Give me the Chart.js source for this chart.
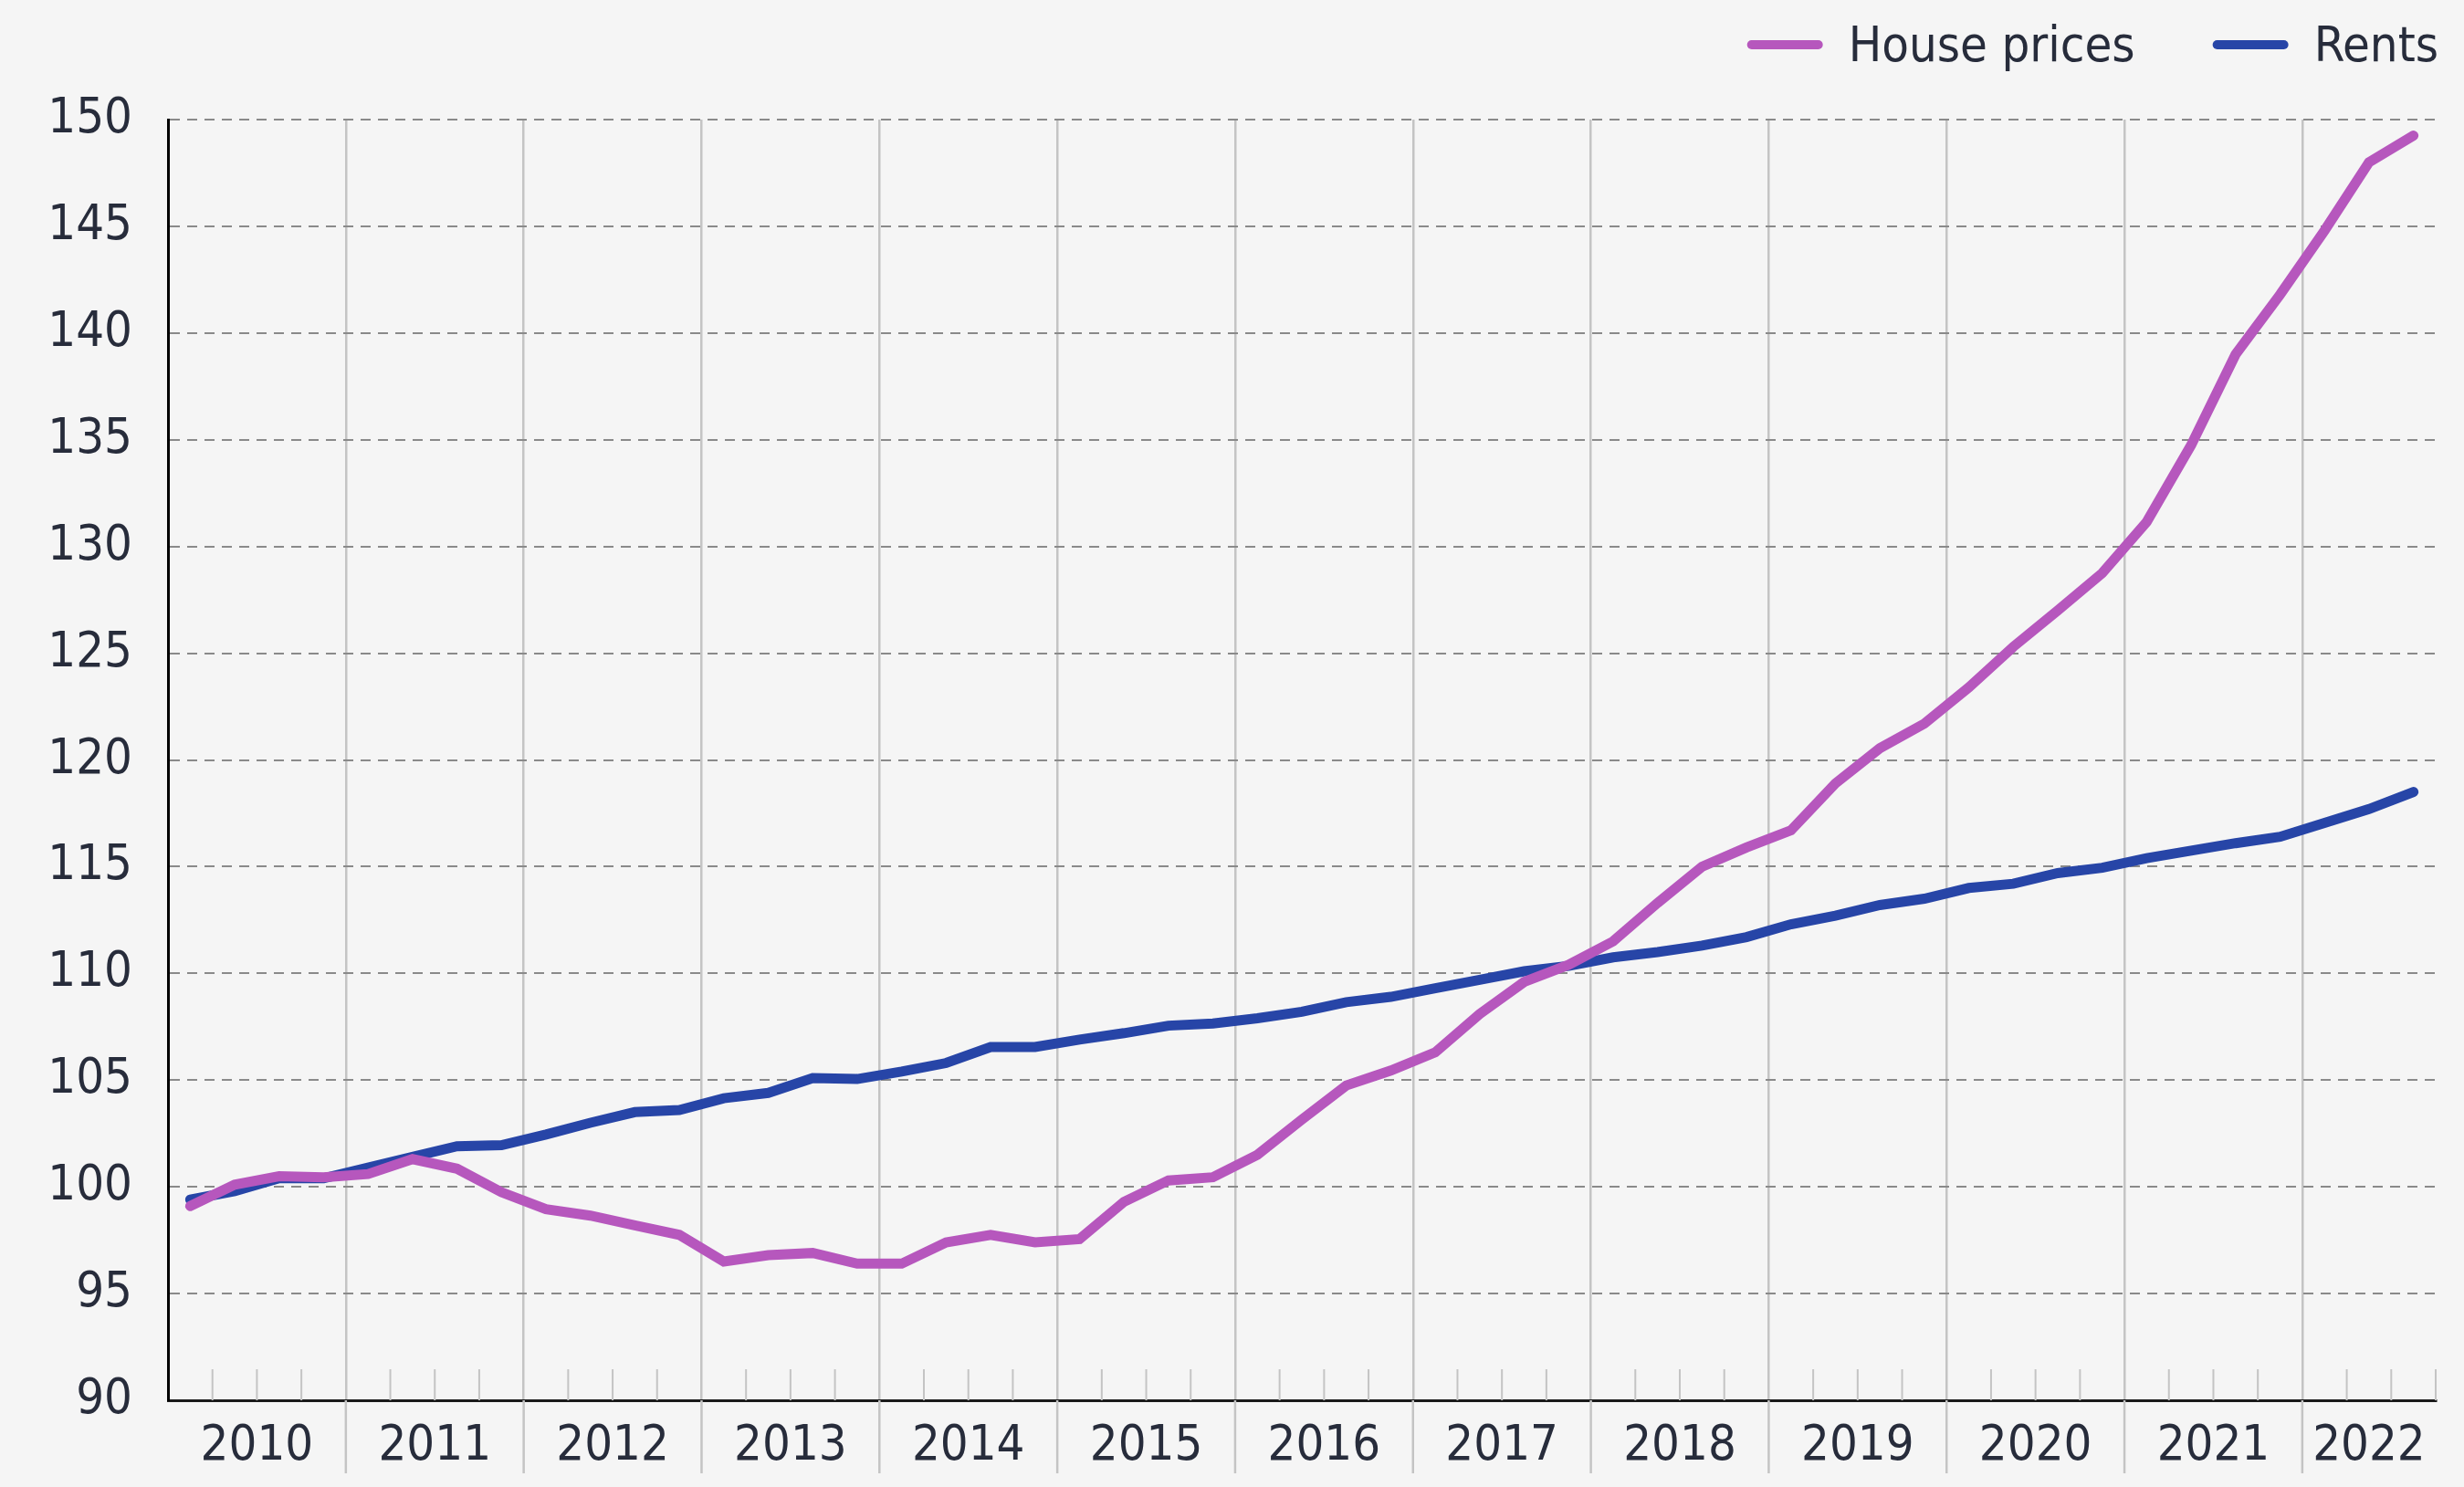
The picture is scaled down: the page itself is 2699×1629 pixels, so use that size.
<!DOCTYPE html>
<html>
<head>
<meta charset="utf-8">
<title>House prices and rents</title>
<script src="https://cdn.jsdelivr.net/npm/chart.js@4.4.1/dist/chart.umd.min.js"></script>
<style>
  html, body { margin: 0; padding: 0; background: #f5f5f5; overflow: hidden; }
  canvas { display: block; }
</style>
</head>
<body>
<canvas id="chart" width="2699" height="1629"></canvas>
<script>
// years shown on the axis (2022 only has three quarters)
const years = ['2010', '2011', '2012', '2013', '2014', '2015', '2016',
  '2017', '2018', '2019', '2020', '2021', '2022'];
const quarterLabels = years
  .flatMap(y => ['Q1', 'Q2', 'Q3', 'Q4'].map(q => y + ' ' + q))
  .slice(0, 51);

const housePrices = [
  99.1, 100.1, 100.5, 100.45,
  100.6, 101.3, 100.85, 99.75,
  98.95, 98.65, 98.2, 97.75,
  96.5, 96.8, 96.9, 96.4,
  96.4, 97.4, 97.75, 97.4,
  97.55, 99.3, 100.3, 100.45,
  101.5, 103.15, 104.75, 105.45,
  106.3, 108.1, 109.6, 110.4,
  111.5, 113.3, 115.0, 115.9,
  116.7, 118.9, 120.55, 121.7,
  123.4, 125.3, 127.0, 128.75,
  131.15, 134.75, 139.0, 141.8,
  144.8, 148.0, 149.25
];

const rents = [
  99.4, 99.8, 100.4, 100.4,
  100.9, 101.4, 101.9, 101.95,
  102.45, 103.0, 103.5, 103.6,
  104.15, 104.4, 105.1, 105.05,
  105.4, 105.8, 106.55, 106.55,
  106.9, 107.2, 107.55, 107.65,
  107.9, 108.2, 108.65, 108.9,
  109.3, 109.7, 110.1, 110.35,
  110.75, 111.0, 111.3, 111.7,
  112.3, 112.7, 113.2, 113.5,
  114.0, 114.2, 114.7, 114.95,
  115.4, 115.75, 116.1, 116.4,
  117.05, 117.7, 118.5
];

const yTicks = [90, 95, 100, 105, 110, 115, 120, 125, 130, 135, 140, 145, 150];

const FONT = "'Liberation Sans Narrow', 'DejaVu Sans Condensed', sans-serif";
const FONT_SIZE = 54;
const TEXT = '#272c3b';
const YEAR_LINE = '#c4c4c4';
const LINE_WIDTH = 11;

// centre of each year's block of quarters, in category index units
const yearCenters = years.map(y => {
  const idx = quarterLabels.map((l, i) => l.startsWith(y) ? i : -1).filter(i => i >= 0);
  return (idx[0] + idx[idx.length - 1]) / 2;
});

Chart.defaults.font.family = FONT;
Chart.defaults.font.size = FONT_SIZE;
Chart.defaults.color = TEXT;

const background = {
  id: 'background',
  beforeDraw(chart) {
    const ctx = chart.ctx;
    ctx.save();
    ctx.fillStyle = '#f5f5f5';
    ctx.fillRect(0, 0, chart.width, chart.height);
    ctx.restore();
  }
};

// short quarter ticks on the axis, and year separators running down past it
const axisMarks = {
  id: 'axisMarks',
  beforeDatasetsDraw(chart) {
    const x = chart.scales.x;
    const ctx = chart.ctx;
    const bottom = chart.chartArea.bottom;
    const n = quarterLabels.length;
    const half = (x.getPixelForValue(1) - x.getPixelForValue(0)) / 2;
    ctx.save();
    ctx.strokeStyle = YEAR_LINE;
    for (let i = 1; i <= n; i++) {
      const px = i < n ? x.getPixelForValue(i) - half : x.getPixelForValue(n - 1) + half;
      ctx.beginPath();
      if (i % 4 === 0) {
        ctx.lineWidth = 2.5;
        ctx.moveTo(px, bottom);
        ctx.lineTo(px, bottom + 80);
      } else {
        ctx.lineWidth = 2;
        ctx.moveTo(px, bottom);
        ctx.lineTo(px, bottom - 34);
      }
      ctx.stroke();
    }
    ctx.restore();
  }
};

// legend top right: line swatch then label
const topLegend = {
  id: 'topLegend',
  afterDraw(chart) {
    const ctx = chart.ctx;
    ctx.save();
    ctx.font = FONT_SIZE + 'px ' + FONT;
    ctx.textBaseline = 'alphabetic';
    ctx.fillStyle = TEXT;
    let right = 2671;
    const sets = chart.data.datasets;
    for (let k = sets.length - 1; k >= 0; k--) {
      const ds = sets[k];
      const w = ctx.measureText(ds.label).width;
      const textX = right - w;
      ctx.fillText(ds.label, textX, 67);
      const end = textX - 28;
      const start = end - 83;
      ctx.strokeStyle = ds.borderColor;
      ctx.lineWidth = 10;
      ctx.lineCap = 'round';
      ctx.beginPath();
      ctx.moveTo(start + 5, 49);
      ctx.lineTo(end - 5, 49);
      ctx.stroke();
      right = start - 85;
    }
    ctx.restore();
  }
};

new Chart(document.getElementById('chart'), {
  type: 'line',
  data: {
    labels: quarterLabels,
    datasets: [
      {
        label: 'House prices',
        data: housePrices,
        borderColor: '#b657bd',
        borderWidth: LINE_WIDTH,
        borderCapStyle: 'round',
        borderJoinStyle: 'miter',
        pointRadius: 0,
        tension: 0
      },
      {
        label: 'Rents',
        data: rents,
        borderColor: '#2745a7',
        borderWidth: LINE_WIDTH,
        borderCapStyle: 'round',
        borderJoinStyle: 'miter',
        pointRadius: 0,
        tension: 0
      }
    ]
  },
  options: {
    responsive: false,
    animation: false,
    devicePixelRatio: 1,
    layout: { padding: { top: 131, right: 31, left: 0, bottom: 0 } },
    plugins: {
      legend: { display: false },
      tooltip: { enabled: false }
    },
    scales: {
      x: {
        type: 'category',
        offset: true,
        grid: {
          offset: true,
          lineWidth: 2.5,
          color: c => c.index % 4 === 0 ? YEAR_LINE : 'rgba(0,0,0,0)',
          drawTicks: false
        },
        border: { display: true, color: '#1a1a1a', width: 3 },
        ticks: { display: false, autoSkip: false },
        afterFit: s => { s.height = 0; }
      },
      x2: {
        type: 'linear',
        position: 'bottom',
        min: -0.5,
        max: quarterLabels.length - 0.5,
        grid: { display: false, drawTicks: false, tickLength: 0 },
        border: { display: false },
        afterBuildTicks: s => { s.ticks = yearCenters.map(v => ({ value: v })); },
        afterFit: s => { s.height = 95; },
        ticks: {
          autoSkip: false,
          maxRotation: 0,
          padding: 19,
          color: TEXT,
          callback: (v) => years[yearCenters.indexOf(v)]
        }
      },
      y: {
        min: 90,
        max: 150,
        afterBuildTicks: s => { s.ticks = yTicks.map(v => ({ value: v })); },
        afterFit: s => { s.width = 184; },
        grid: {
          color: '#8a8a8a',
          lineWidth: 2,
          drawTicks: false
        },
        border: { display: true, color: '#000000', width: 3, dash: [11, 8] },
        ticks: { padding: 39, color: TEXT }
      }
    }
  },
  plugins: [background, axisMarks, topLegend]
});
</script>
</body>
</html>
